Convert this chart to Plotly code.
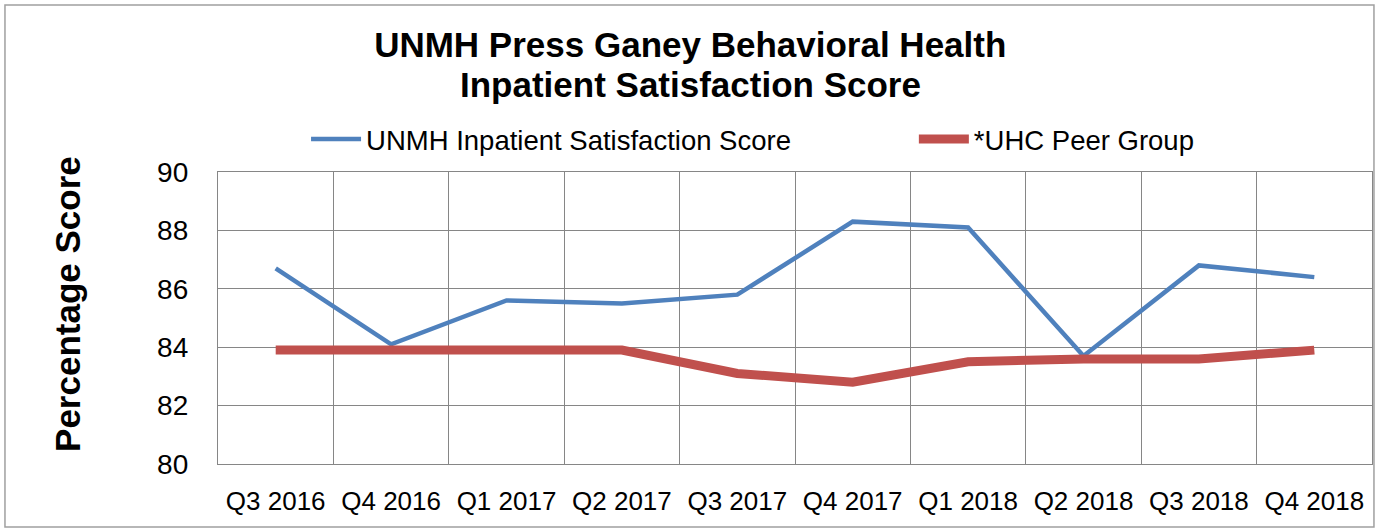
import plotly.graph_objects as go

# Quarterly data
quarters = ['Q3 2016', 'Q4 2016', 'Q1 2017', 'Q2 2017', 'Q3 2017',
            'Q4 2017', 'Q1 2018', 'Q2 2018', 'Q3 2018', 'Q4 2018']
unmh_score = [86.7, 84.1, 85.6, 85.5, 85.8, 88.3, 88.1, 83.7, 86.8, 86.4]
uhc_peer = [83.9, 83.9, 83.9, 83.9, 83.1, 82.8, 83.5, 83.6, 83.6, 83.9]
y_ticks = [80, 82, 84, 86, 88, 90]

FONT = 'Liberation Sans, Arial, sans-serif'
GRID = '#868686'

fig = go.Figure()

fig.add_trace(go.Scatter(
    x=quarters, y=unmh_score,
    mode='lines',
    name='UNMH Inpatient Satisfaction Score',
    line=dict(color='#4F81BD', width=4.5),
    legend='legend'
))

fig.add_trace(go.Scatter(
    x=quarters, y=uhc_peer,
    mode='lines',
    name='*UHC Peer Group',
    line=dict(color='#C0504D', width=9),
    legend='legend2'
))

legend_style = dict(
    orientation='h',
    xanchor='left',
    y=1.113, yanchor='middle',
    font=dict(family=FONT, size=27.5, color='black'),
    itemwidth=50,
    bgcolor='rgba(0,0,0,0)'
)

fig.update_layout(
    width=1375,
    height=529,
    margin=dict(l=218, r=3, t=172, b=65),
    paper_bgcolor='white',
    plot_bgcolor='white',
    font=dict(family=FONT, size=26, color='black'),
    # first title line
    title=dict(
        text='<b>UNMH Press Ganey Behavioral Health</b>',
        font=dict(family=FONT, size=35, color='black'),
        x=0.502, xref='container', xanchor='center',
        y=1 - 45 / 529, yref='container', yanchor='middle'
    ),
    legend=dict(legend_style, x=0.0763),
    legend2=dict(legend_style, x=0.603),
    showlegend=True,
    xaxis=dict(
        showgrid=True, gridcolor=GRID, gridwidth=1.3,
        showline=True, linecolor=GRID, linewidth=1.3, mirror=True,
        tickson='boundaries',
        ticks='', ticklabelstandoff=14,
        tickfont=dict(family=FONT, size=26, color='black'),
        range=[-0.5, 9.5],
        fixedrange=True
    ),
    yaxis=dict(
        range=[80, 90],
        tickvals=y_ticks,
        showgrid=True, gridcolor=GRID, gridwidth=1.3,
        showline=True, linecolor=GRID, linewidth=1.3, mirror=True,
        ticks='', ticklabelstandoff=23,
        tickfont=dict(family=FONT, size=28, color='black'),
        zeroline=False,
        fixedrange=True
    ),
    annotations=[
        # second title line
        dict(text='<b>Inpatient Satisfaction Score</b>',
             xref='paper', yref='paper', x=(690 - 218) / 1154, y=1.298,
             xanchor='center', yanchor='middle', showarrow=False,
             font=dict(family=FONT, size=35, color='black')),
        # y axis title
        dict(text='<b>Percentage Score</b>', textangle=-90,
             xref='paper', yref='paper', x=-0.13, y=0.548,
             xanchor='center', yanchor='middle', showarrow=False,
             font=dict(family=FONT, size=35, color='black')),
    ],
    shapes=[dict(
        type='rect', xref='paper', yref='paper',
        x0=-0.1846, x1=1.0017, y0=-0.216, y1=1.572,
        line=dict(color='#A0A0A0', width=1.5), fillcolor='rgba(0,0,0,0)',
        layer='below'
    )]
)

fig.write_html('out.html', config={'displayModeBar': False},
               post_script="document.body.style.margin='0';")
